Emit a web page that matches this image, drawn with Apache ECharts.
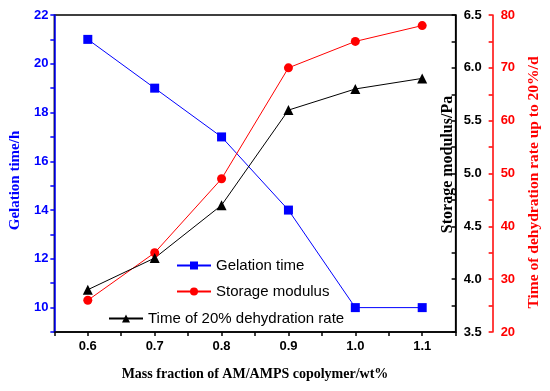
<!DOCTYPE html>
<html><head><meta charset="utf-8">
<script src="https://cdn.jsdelivr.net/npm/echarts@6/dist/echarts.min.js"></script>
<style>html,body{margin:0;padding:0;background:#fff}#c{width:550px;height:391px}</style>
</head><body><div id="c"></div>
<script>
const massFraction = [0.6, 0.7, 0.8, 0.9, 1.0, 1.1];
const gelationTime = [21, 19, 17, 14, 10, 10];
const dehydrationTime = [26, 35, 49, 70, 75, 78];
const storageModulus = [3.9, 4.2, 4.7, 5.6, 5.8, 5.9];
const seriesNames = ['Gelation time', 'Storage modulus', 'Time of 20% dehydration rate'];

const pairs = ys => massFraction.map((x, i) => [x, ys[i]]);
const sans = '"Liberation Sans", Arial, sans-serif';
const serif = '"Liberation Serif", "Times New Roman", serif';
const tickLbl = (c) => ({ color: c, fontFamily: sans, fontWeight: 'bold', fontSize: 13 });
const legText = { fontFamily: sans, fontSize: 15, color: '#000' };

const chart = echarts.init(document.getElementById('c'), null, { renderer: 'canvas' });
chart.setOption({
  animation: false,
  grid: { left: 52, right: 86, top: 15, bottom: 59, show: true, borderColor: '#000', borderWidth: 1.5 },
  legend: [
    { data: [seriesNames[0]], left: 171, top: 253, itemWidth: 34, itemHeight: 10, textStyle: legText },
    { data: [seriesNames[1]], left: 171, top: 279, itemWidth: 34, itemHeight: 10, textStyle: legText },
    { data: [seriesNames[2]], left: 103, top: 306, itemWidth: 34, itemHeight: 10, textStyle: legText }
  ],
  xAxis: {
    type: 'value', min: 0.55, max: 1.15, interval: 0.05,
    name: 'Mass fraction of AM/AMPS copolymer/wt%', nameLocation: 'middle', nameGap: 35,
    nameTextStyle: { fontFamily: serif, fontWeight: 'bold', fontSize: 14, color: '#000' },
    axisLine: { lineStyle: { color: '#000', width: 1.5 } },
    axisTick: { length: 4, lineStyle: { color: '#000', width: 1.5 } },
    splitLine: { show: false },
    axisLabel: Object.assign(tickLbl('#000'), { margin: 8,
      formatter: v => { const r = Math.round(v * 100); return r % 10 === 0 ? (r / 100).toFixed(1) : ''; } })
  },
  yAxis: [
    { type: 'value', position: 'left', min: 9, max: 22, interval: 1,
      name: 'Gelation time/h', nameLocation: 'middle', nameGap: 30, nameRotate: 90,
      nameTextStyle: { fontFamily: serif, fontWeight: 'bold', fontSize: 15, color: '#0000ff', padding: [0, 14, 0, 0] },
      axisLine: { show: true, lineStyle: { color: '#0000ff', width: 1.5 } },
      axisTick: { show: true, length: 4, lineStyle: { color: '#0000ff', width: 1.5 } },
      splitLine: { show: false },
      axisLabel: Object.assign(tickLbl('#0000ff'), { margin: 6,
        formatter: v => (Math.round(v) % 2 === 0 ? String(Math.round(v)) : '') }) },
    { type: 'value', position: 'right', min: 3.5, max: 6.5, interval: 0.25,
      name: 'Storage modulus/Pa', nameLocation: 'middle', nameGap: -16, nameRotate: 90, nameMoveOverlap: false,
      nameTextStyle: { fontFamily: serif, fontWeight: 'bold', fontSize: 16, color: '#000', padding: [0, 0, 0, 18] },
      axisLine: { show: true, lineStyle: { color: '#000', width: 1.5 } },
      axisTick: { show: true, inside: true, length: 4, lineStyle: { color: '#000', width: 1.5 } },
      splitLine: { show: false },
      axisLabel: Object.assign(tickLbl('#000'), { margin: 8,
        formatter: v => { const r = Math.round(v * 100); return r % 50 === 0 ? (r / 100).toFixed(1) : ''; } }) },
    { type: 'value', position: 'right', offset: 37, min: 20, max: 80, interval: 5,
      name: 'Time of dehydration rate up to 20%/d', nameLocation: 'middle', nameGap: 21, nameRotate: 90,
      nameTextStyle: { fontFamily: serif, fontWeight: 'bold', fontSize: 15.5, color: '#ff0000', padding: [0, 18, 0, 0] },
      axisLine: { show: true, lineStyle: { color: '#ff0000', width: 1.5 } },
      axisTick: { show: true, inside: true, length: 4, lineStyle: { color: '#ff0000', width: 1.5 } },
      splitLine: { show: false },
      axisLabel: Object.assign(tickLbl('#ff0000'), { margin: 8,
        formatter: v => (Math.round(v) % 10 === 0 ? String(Math.round(v)) : '') }) }
  ],
  series: [
    { name: seriesNames[0], type: 'line', yAxisIndex: 0, data: pairs(gelationTime),
      symbol: 'rect', symbolSize: 9, color: '#0000ff', lineStyle: { width: 1, color: '#0000ff' },
      itemStyle: { color: '#0000ff' } },
    { name: seriesNames[1], type: 'line', yAxisIndex: 2, data: pairs(dehydrationTime),
      symbol: 'circle', symbolSize: 9, color: '#ff0000', lineStyle: { width: 1, color: '#ff0000' },
      itemStyle: { color: '#ff0000' } },
    { name: seriesNames[2], type: 'line', yAxisIndex: 1, data: pairs(storageModulus),
      symbol: 'triangle', symbolSize: 10, color: '#000', lineStyle: { width: 1, color: '#000' },
      itemStyle: { color: '#000' } }
  ]
});
</script></body></html>
